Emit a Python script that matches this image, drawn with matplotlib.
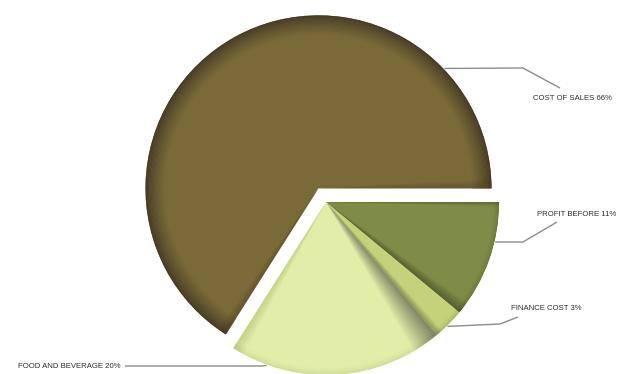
import numpy as np
import matplotlib
matplotlib.use("Agg")
import matplotlib.pyplot as plt
from matplotlib.patches import Wedge
from matplotlib.colors import to_rgb

# ---- data ----
labels = ["PROFIT BEFORE", "FINANCE COST", "FOOD AND BEVERAGE", "COST OF SALES"]
shares = [11, 3, 20, 66]
colors = ["#7f8c47", "#c5d27a", "#e2eea8", "#7a6a38"]
explode = [0, 0, 0, 0.09]

W, H = 623, 374
R = 173.0
CX, CY = 326, 202          # pixel centre of the un-exploded slices
INK, LINE = "#2e2e2e", "#8c8c8c"


def px(x, y):
    """pixel position -> data coords (pie radius = 1)"""
    return (x - CX) / R, (CY - y) / R


def mix(c1, c2, t):
    a, b = np.array(to_rgb(c1)), np.array(to_rgb(c2))
    return tuple(a + (b - a) * t)


fig = plt.figure(figsize=(W / 100, H / 100), dpi=100)
ax = fig.add_axes([0, 0, 1, 1])
wedges, _ = ax.pie(shares, colors=colors, explode=explode, startangle=0,
                   counterclock=False, radius=1, wedgeprops=dict(linewidth=0))
ax.set_xlim(-CX / R, (W - CX) / R)
ax.set_ylim(-(H - CY) / R, CY / R)
ax.axis("off")

# ---- shading: rim gradient + shadows along the cut edges ----
rim = {0: ("#6c7838", 0.03), 1: ("#aab866", 0.03), 2: ("#cfdc98", 0.04),
       3: ("#453a26", 0.11)}
N = 16
for k, w in enumerate(wedges):
    c, t1, t2 = w.center, w.theta1, w.theta2
    rc, depth = rim[k]
    for j in range(N):
        r = 1 - depth * j / N
        t = (j / N) ** 0.8
        ax.add_patch(Wedge(c, r, t1, t2, width=depth / N + 0.002,
                           color=mix(rc, colors[k], t), lw=0, zorder=3))


def edge_shadow(w, at, span, col, a0, zorder=4):
    """angular fade from edge angle `at` over `span` degrees"""
    steps = 14
    for j in range(steps):
        a = a0 * (1 - j / steps)
        s0 = at + span * j / steps
        s1 = at + span * (j + 1) / steps
        ax.add_patch(Wedge(w.center, 1, min(s0, s1), max(s0, s1), color=col,
                           alpha=a, lw=0, zorder=zorder))


wp, wf, wb, wc = wedges
edge_shadow(wb, wb.theta2, -9, "#2e2e2e", 0.55)      # F&B under finance
edge_shadow(wb, wb.theta1, 4, "#8a9a4a", 0.35)       # F&B left edge
edge_shadow(wf, wf.theta1, 2.5, "#3a3a2a", 0.45)     # finance lower edge
edge_shadow(wp, wp.theta1, 4, "#2e3318", 0.55)       # profit lower edge
edge_shadow(wp, wp.theta2, -1.5, "#3c4420", 0.5)     # profit top edge
edge_shadow(wc, wc.theta1, 3, "#4a3e26", 0.5)        # cost of sales cut
edge_shadow(wc, wc.theta2, -3, "#4a3e26", 0.5)

# ---- leader lines + labels ----
leaders = [
    # label idx, rim angle, elbow px, end px, text anchor px, ha
    (3, 43.6, (523, 68), (560, 88), (533, 98.5), "left"),
    (0, -13.3, (523, 242), (557, 222), (537, 214.5), "left"),
    (1, -45.7, (500, 324), (518, 317), (511, 308.5), "left"),
    (2, -110.0, (262, 366), (125, 366), (120, 366), "right"),
]
for k, ang, elbow, end, txt, ha in leaders:
    c = wedges[k].center
    a = np.radians(ang)
    x0, y0 = c[0] + 1.005 * np.cos(a), c[1] + 1.005 * np.sin(a)
    ex, ey = px(*elbow)
    fx, fy = px(*end)
    ax.plot([x0, ex, fx], [y0, ey, fy], color=LINE, lw=1, zorder=5,
            solid_capstyle="butt")
    tx, ty = px(*txt)
    ax.text(tx, ty, f"{labels[k]} {shares[k]}%", ha=ha, va="center",
            fontsize=5.6, color=INK,
            family=["Liberation Sans", "DejaVu Sans"], zorder=6)

fig.savefig("out.png", dpi=100, facecolor="white")
